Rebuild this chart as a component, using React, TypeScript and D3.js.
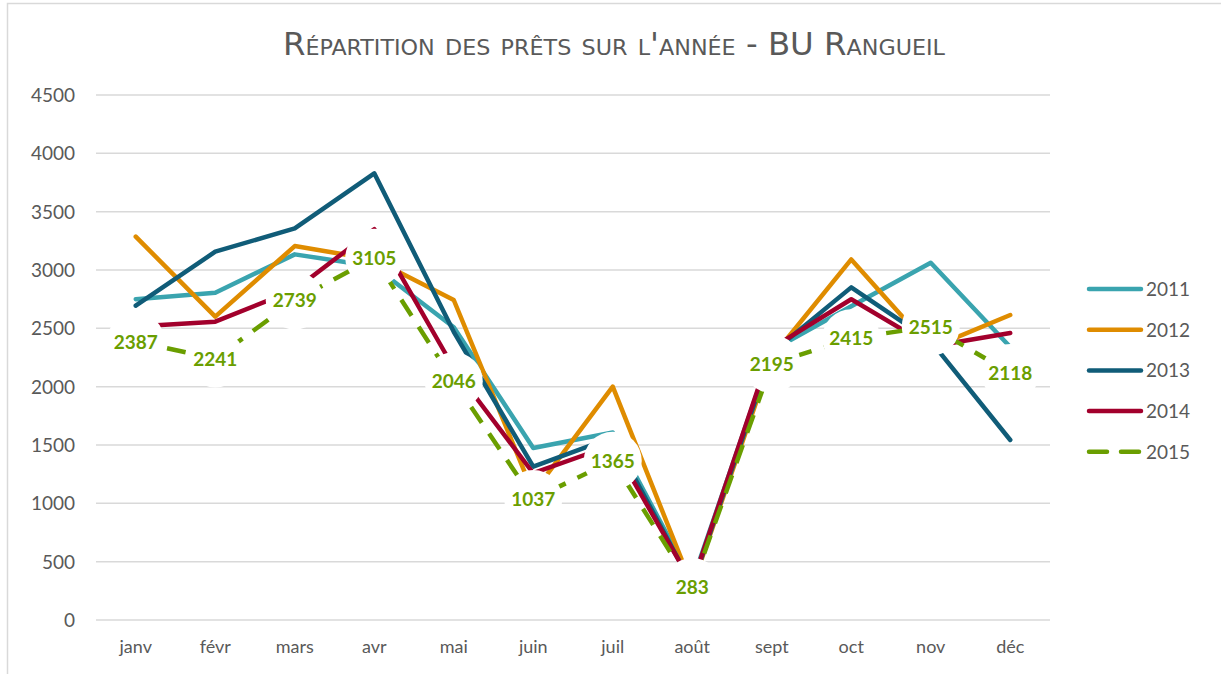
import React from "react";
import * as d3 from "d3";

const months = ["janv", "févr", "mars", "avr", "mai", "juin", "juil", "août", "sept", "oct", "nov", "déc"];
const yTicks = [0, 500, 1000, 1500, 2000, 2500, 3000, 3500, 4000, 4500];

const s2011 = [2750, 2805, 3134, 3030, 2510, 1475, 1607, 330, 2310, 2690, 3062, 2340];
const s2012 = [3286, 2600, 3205, 3090, 2743, 1090, 2000, 290, 2250, 3091, 2330, 2614];
const s2013 = [2694, 3157, 3357, 3829, 2470, 1314, 1565, 300, 2290, 2851, 2390, 1543];
const s2014 = [2516, 2557, 2830, 3350, 2160, 1258, 1500, 310, 2330, 2749, 2345, 2460];
const s2015 = [2387, 2241, 2739, 3105, 2046, 1037, 1365, 283, 2195, 2415, 2515, 2118];

const seriesNames = ["2011", "2012", "2013", "2014", "2015"];
const seriesColors = ["#3AA4AF", "#DF8C00", "#105C78", "#A2002C", "#6A9E00"];
const seriesData = [s2011, s2012, s2013, s2014, s2015];

const W = 1221;
const H = 674;
const plotLeft = 96;
const plotRight = 1050;
const plotTop = 95;
const plotBottom = 620;

export default function App() {
  const x = d3.scaleBand<string>().domain(months).range([plotLeft, plotRight]);
  const cx = (m: string) => (x(m) as number) + x.bandwidth() / 2;
  const y = d3.scaleLinear().domain([0, 4500]).range([plotBottom, plotTop]);
  const line = d3
    .line<number>()
    .x((_, i) => cx(months[i]))
    .y((d) => y(d));

  const font = "Lato, 'Open Sans', sans-serif";
  const grey = "#595959";

  return (
    <svg
      width={W}
      height={H}
      style={{ position: "absolute", left: 0, top: 0, background: "#fff" }}
    >
      <rect x={0} y={0} width={W} height={H} fill="#fff" />
      <rect x={7.5} y={3.5} width={W + 50} height={H + 50} fill="none" stroke="#d9d9d9" strokeWidth={1.5} />

      <text
        x={614}
        y={55}
        textAnchor="middle"
        fontFamily="'DejaVu Sans Condensed', 'DejaVu Sans', sans-serif"
        fontSize={32}
        fill={grey}
        style={{ fontVariant: "small-caps" }}
        textLength={662}
        lengthAdjust="spacingAndGlyphs"
      >
        Répartition des prêts sur l'année - BU Rangueil
      </text>

      {yTicks.map((t) => (
        <g key={t}>
          <line x1={plotLeft} x2={plotRight} y1={y(t)} y2={y(t)} stroke="#d9d9d9" strokeWidth={1.5} />
          <text x={75} y={y(t) + 7} textAnchor="end" fontFamily={font} fontSize={19} fill={grey}>
            {t}
          </text>
        </g>
      ))}

      {months.map((m) => (
        <text key={m} x={cx(m)} y={653} textAnchor="middle" fontFamily={font} fontSize={18} fill={grey}>
          {m}
        </text>
      ))}

      {seriesData.slice(0, 4).map((s, i) => (
        <path
          key={seriesNames[i]}
          d={line(s) || ""}
          fill="none"
          stroke={seriesColors[i]}
          strokeWidth={4.5}
          strokeLinejoin="round"
          strokeLinecap="round"
        />
      ))}

      <path
        d={line(s2015) || ""}
        fill="none"
        stroke={seriesColors[4]}
        strokeWidth={4.5}
        strokeLinejoin="round"
        strokeDasharray="19 13"
      />

      {s2015.map((v, i) => (
        <circle key={"c" + i} cx={cx(months[i])} cy={y(v)} r={29} fill="#fff" />
      ))}
      {s2015.map((v, i) => (
        <text
          key={"l" + i}
          x={cx(months[i])}
          y={y(v) + 7}
          textAnchor="middle"
          fontFamily={font}
          fontWeight="bold"
          fontSize={19}
          fill={seriesColors[4]}
        >
          {v}
        </text>
      ))}

      {seriesNames.map((n, i) => {
        const ly = 289 + i * 40.7;
        return (
          <g key={"lg" + n}>
            <line
              x1={1089}
              x2={1141}
              y1={ly}
              y2={ly}
              stroke={seriesColors[i]}
              strokeWidth={4.5}
              strokeLinecap="round"
              strokeDasharray={i === 4 ? "18 14" : undefined}
            />
            <text x={1146} y={ly + 7} fontFamily={font} fontSize={19} fill={grey}>
              {n}
            </text>
          </g>
        );
      })}
    </svg>
  );
}
